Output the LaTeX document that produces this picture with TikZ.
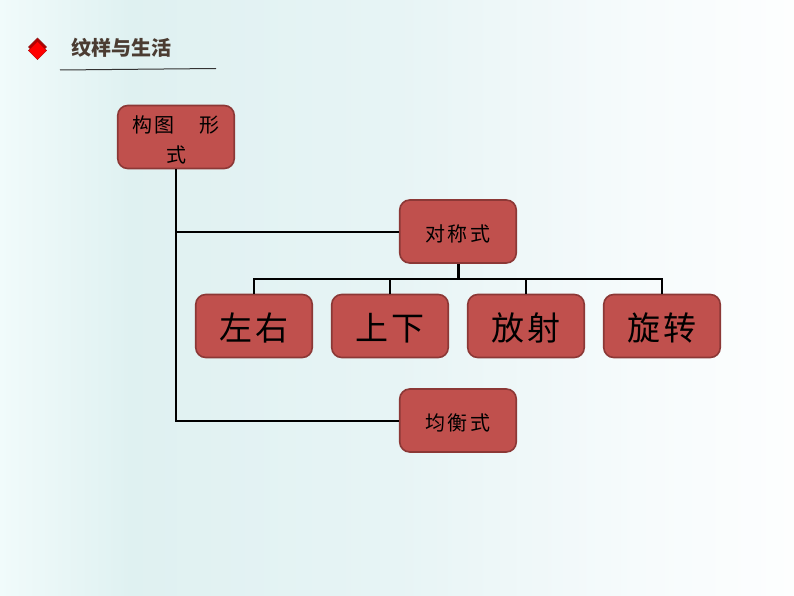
\documentclass[tikz,border=0pt]{standalone}
\usepackage{fontspec}
\setmainfont{Noto Sans CJK SC}
\usetikzlibrary{calc}
\usetikzlibrary{shapes.geometric}
\definecolor{boxfill}{RGB}{192,80,77}
\definecolor{boxline}{RGB}{140,56,54}
\definecolor{titletext}{RGB}{75,60,50}
\newcommand{\lowertext}[2][2pt]{\raisebox{-#1}[\height][\depth]{#2}}
\pgfdeclarehorizontalshading{pagefade}{100bp}{
    rgb(0bp)=(0.945,0.984,0.984);
    rgb(25bp)=(0.945,0.984,0.984);
    rgb(33.2bp)=(0.875,0.945,0.945);
    rgb(50bp)=(0.906,0.957,0.961);
    rgb(65bp)=(0.965,0.984,0.988);
    rgb(78bp)=(1,1,1);
    rgb(100bp)=(1,1,1)}
\tikzset{
    redbox/.style={draw=boxline, line width=1.6pt, fill=boxfill, rounded corners=10pt,
        minimum width=116.5pt, minimum height=63pt, inner sep=0pt, align=center, text=black},
    smalltext/.style={font=\fontsize{20}{30}\selectfont\addfontfeature{LetterSpace=12}},
    bigtext/.style={font=\fontsize{33}{36}\selectfont\addfontfeature{LetterSpace=8}},
    link/.style={line width=2pt, black},
    thinlink/.style={line width=1.6pt, black},
    markdiamond/.style={diamond, aspect=1, minimum width=18.5pt, minimum height=18.5pt, inner sep=0pt}
}
\begin{document}
\begin{tikzpicture}[x=1pt, y=-1pt]
    \useasboundingbox (0,0) rectangle (794,596);
    \shade[shading=pagefade] (0,0) rectangle (794,596);
    \node[markdiamond, draw=boxline, fill=red!70!black] (markback) at (37.5,47) {};
    \node[markdiamond, draw=red!70!black, fill=red] (markfront) at (37.5,50.5) {};
    \node[anchor=west, font=\fontsize{20}{24}\selectfont\bfseries, text=titletext, inner sep=0pt] (title) at (71,48) {纹样与生活};
    \coordinate (rulestart) at (60,70);
    \coordinate (ruleend) at (216,68.5);
    \draw[line width=1pt, black!80] (rulestart) -- (ruleend);

    \node[redbox, smalltext] (form) at (176,137) {\lowertext[3pt]{构图\hspace{25pt}形}\\\lowertext[3pt]{式}};
    \node[redbox, smalltext] (sym) at (458,231.5) {\lowertext{对称式}};
    \node[redbox, smalltext] (bal) at (458,420.5) {\lowertext{均衡式}};
    \node[redbox, bigtext] (lr) at (254,326) {\lowertext{左右}};
    \node[redbox, bigtext] (ud) at (390,326) {\lowertext{上下}};
    \node[redbox, bigtext] (rad) at (526,326) {\lowertext{放射}};
    \node[redbox, bigtext] (rot) at (662,326) {\lowertext{旋转}};

    \draw[link] (form.south) |- (sym.west);
    \draw[link] (form.south) |- (bal.west);
    \coordinate (bus) at ($(sym.south)+(0,15)$);
    \draw[line width=3pt] (sym.south) -- (bus);
    \foreach \child in {lr, ud, rad, rot} {
        \draw[thinlink] (bus) -| (\child.north);
    }
\end{tikzpicture}
\end{document}
